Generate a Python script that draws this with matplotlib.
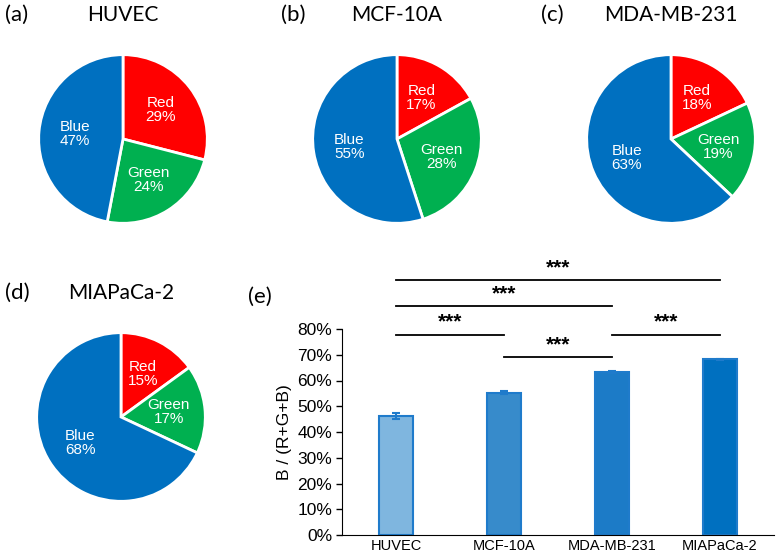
import matplotlib.pyplot as plt
import numpy as np

W, H = 777, 555

# pie data (percent), order: Red, Green, Blue
pie_names = ['Red', 'Green', 'Blue']
pie_colors = ['#FF0000', '#00B050', '#0070C0']
pie_titles = ['HUVEC', 'MCF-10A', 'MDA-MB-231', 'MIAPaCa-2']
pie_tags = ['(a)', '(b)', '(c)', '(d)']
huvec_pct = [29, 24, 47]
mcf10a_pct = [17, 28, 55]
mda231_pct = [18, 19, 63]
miapaca_pct = [15, 17, 68]

# bar data
cells = ['HUVEC', 'MCF-10A', 'MDA-MB-231', 'MIAPaCa-2']
blue_ratio = [0.463, 0.553, 0.632, 0.682]
blue_err = [0.011, 0.007, 0.004, 0.002]
bar_colors = ['#7FB6DF', '#378BCB', '#1C7BC7', '#0070C0']
yticks = [0, 0.1, 0.2, 0.3, 0.4, 0.5, 0.6, 0.7, 0.8]

# significance brackets: (i, j, level)
sig_pairs = [(0, 1, 0.777), (1, 2, 0.691), (2, 3, 0.777), (0, 2, 0.889), (0, 3, 0.990)]
sig_text = '***'

plt.rcParams['font.family'] = 'sans-serif'
plt.rcParams['font.sans-serif'] = ['Liberation Sans']
fig = plt.figure(figsize=(W / 100, H / 100), dpi=100)


def px_axes(left, top, width, height):
    return fig.add_axes([left / W, 1 - (top + height) / H, width / W, height / H])


def draw_pie(cx, cy, r, vals, title):
    ax = px_axes(cx - r, cy - r, 2 * r, 2 * r)
    labels = [f'{n}\n{v}%' for n, v in zip(pie_names, vals)]
    wedges, texts = ax.pie(vals, colors=pie_colors, startangle=90, counterclock=False,
                           labels=labels, labeldistance=0.57,
                           wedgeprops=dict(edgecolor='white', linewidth=2))
    for t in texts:
        t.set_ha('center')
        t.set_va('center')
        t.set_color('white')
        t.set_fontsize(11)
        t.set_linespacing(1.0)
    ax.set_xlim(-1.02, 1.02)
    ax.set_ylim(-1.02, 1.02)
    fig.text(cx / W, 1 - (cy - r - 38) / H, title, ha='center', va='center',
             fontsize=15, family='Lato')
    return ax


pie_data = [huvec_pct, mcf10a_pct, mda231_pct, miapaca_pct]
centers = [(123, 139), (397, 139), (671, 139), (121, 417)]
tag_x = [17, 293, 552, 17]
for (cx, cy), vals, title, tag, tx in zip(centers, pie_data, pie_titles, pie_tags, tag_x):
    draw_pie(cx, cy, 86, vals, title)
    fig.text(tx / W, 1 - (cy - 86 - 38) / H, tag, ha='center', va='center',
             fontsize=16, family='Lato')

# bar chart (e)
ax = px_axes(342, 329, 432, 206)
x = np.arange(len(cells))
ax.bar(x, blue_ratio, width=0.31, color=bar_colors, edgecolor='#1F7BCB', linewidth=1.5,
       yerr=blue_err, error_kw=dict(ecolor='#1F7BCB', capsize=3, elinewidth=1.5, capthick=1.5))
ax.set_xlim(-0.5, 3.5)
ax.set_ylim(0, 0.8)
ax.set_yticks(yticks)
ax.set_yticklabels([f'{int(round(v * 100))}%' for v in yticks], fontsize=12.5)
ax.set_xticks(x)
ax.set_xticklabels(cells, fontsize=10.5)
ax.tick_params(axis='x', length=0, pad=3)
ax.tick_params(axis='y', length=4, width=1, pad=3)
ax.spines['top'].set_visible(False)
ax.spines['right'].set_visible(False)
ax.set_ylabel('B / (R+G+B)', fontsize=12.5, labelpad=4)

for i, j, lvl in sig_pairs:
    ax.plot([i, j], [lvl, lvl], color='black', linewidth=1.3, clip_on=False)
    ax.text((i + j) / 2, lvl + 0.012, sig_text, ha='center', va='bottom', fontsize=15,
            fontweight='bold', clip_on=False)

fig.text(260 / W, 1 - 297 / H, '(e)', ha='center', va='center', fontsize=16, family='Lato')

fig.savefig('out.png', dpi=100)
